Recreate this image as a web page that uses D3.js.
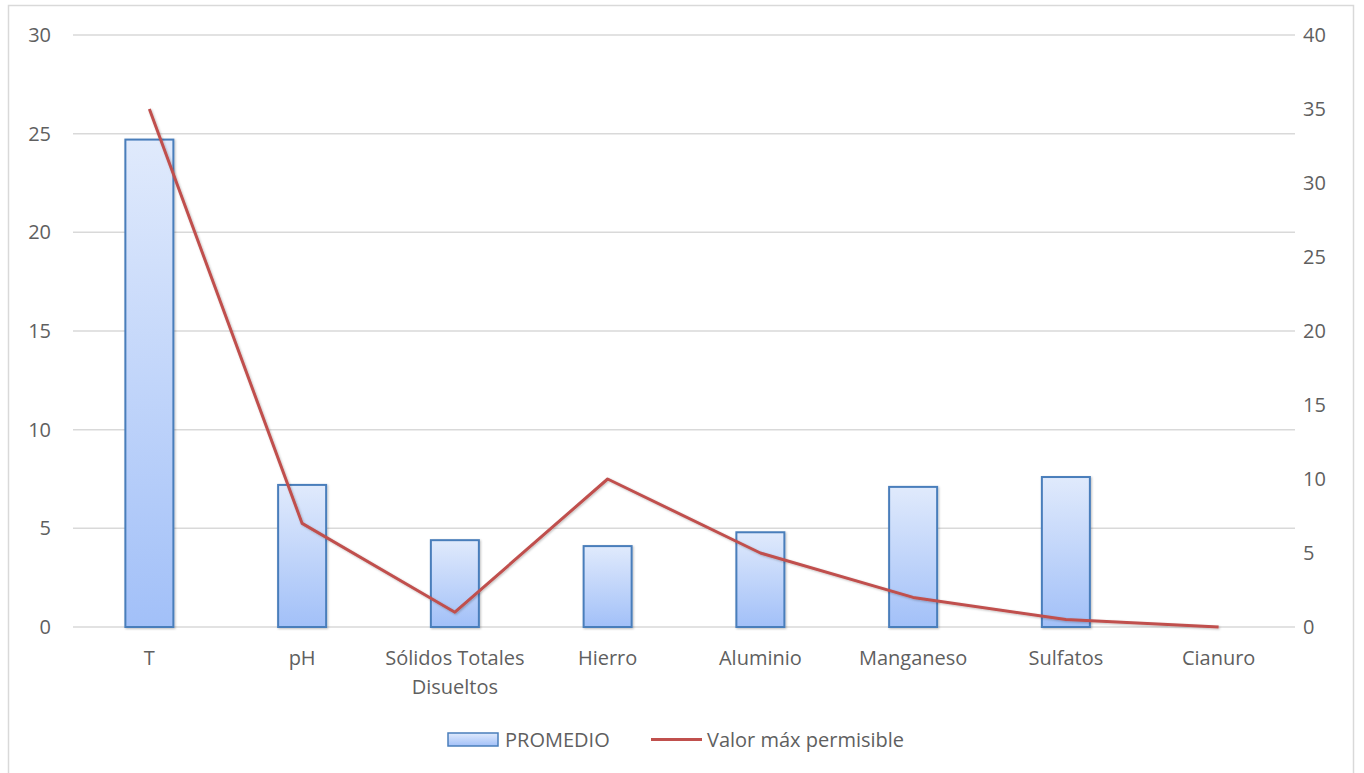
<!DOCTYPE html>
<html><head><meta charset="utf-8">
<script src="https://cdn.jsdelivr.net/npm/d3@7"></script>
<style>
body{margin:0;background:#fff;}
svg{display:block;font-family:"Open Sans",Lato,sans-serif;}
</style></head>
<body><svg id="c" width="1364" height="773"></svg>
<script>
const categories = ["T","pH","Sólidos Totales Disueltos","Hierro","Aluminio","Manganeso","Sulfatos","Cianuro"];
const promedio = [24.7, 7.2, 4.4, 4.1, 4.8, 7.1, 7.6, 0];
const valorMax = [35, 7, 1, 10, 5, 2, 0.5, 0];
const leftTicks = [0,5,10,15,20,25,30];
const rightTicks = [0,5,10,15,20,25,30,35,40];
const seriesNames = ["PROMEDIO","Valor máx permisible"];

const svg = d3.select("#c");
const L = 73, R = 1295, T = 35, B = 627;
const textColor = "#5f5f5f";
const FONT = "'Open Sans',Lato,sans-serif";
const FS = "20px";

svg.append("rect").attr("x",8.5).attr("y",5.5).attr("width",1345).attr("height",800)
  .attr("fill","#fff").attr("stroke","#d9d9d9").attr("stroke-width",1.5);

const defs = svg.append("defs");
const g = defs.append("linearGradient").attr("id","barGrad").attr("x1",0).attr("y1",0).attr("x2",0).attr("y2",1);
g.append("stop").attr("offset","0%").attr("stop-color","#e0eafc");
g.append("stop").attr("offset","100%").attr("stop-color","#a2c0f8");
const f = defs.append("filter").attr("id","sh").attr("x","-20%").attr("y","-20%").attr("width","140%").attr("height","140%");
f.append("feDropShadow").attr("dx",1).attr("dy",1).attr("stdDeviation",1.2).attr("flood-color","#000").attr("flood-opacity",0.25);

const x = d3.scaleBand().domain(categories).range([L,R]);
const yL = d3.scaleLinear().domain([0,30]).range([B,T]);
const yR = d3.scaleLinear().domain([0,40]).range([B,T]);

// gridlines
svg.append("g").selectAll("line").data(leftTicks).join("line")
  .attr("x1",L).attr("x2",R).attr("y1",d=>yL(d)).attr("y2",d=>yL(d))
  .attr("stroke","#d9d9d9").attr("stroke-width",1.5);

// left axis
const axL = svg.append("g").attr("transform",`translate(${L},0)`)
  .call(d3.axisLeft(yL).tickValues(leftTicks).tickSize(0).tickPadding(22));
axL.select(".domain").remove();
axL.selectAll("text").attr("fill",textColor).style("font-size",FS).style("font-family",FONT);

// right axis
const axR = svg.append("g").attr("transform",`translate(${R},0)`)
  .call(d3.axisRight(yR).tickValues(rightTicks).tickSize(0).tickPadding(8));
axR.select(".domain").remove();
axR.selectAll("text").attr("fill",textColor).style("font-size",FS).style("font-family",FONT);

// bars
const bw = 48;
svg.append("g").selectAll("rect").data(promedio.map((v,i)=>({c:categories[i],v})).filter(d=>d.v>0)).join("rect")
  .attr("x",d=>x(d.c)+x.bandwidth()/2-bw/2).attr("width",bw)
  .attr("y",d=>yL(d.v)).attr("height",d=>yL(0)-yL(d.v))
  .attr("fill","url(#barGrad)").attr("stroke","#4a7ebb").attr("stroke-width",2)
  .attr("filter","url(#sh)");

// line
const line = d3.line().x((d,i)=>x(categories[i])+x.bandwidth()/2).y(d=>yR(d));
svg.append("path").datum(valorMax).attr("d",line).attr("fill","none")
  .attr("stroke","#c0504d").attr("stroke-width",3).attr("stroke-linejoin","round")
  .attr("filter","url(#sh)");

// x labels
const xl = svg.append("g");
categories.forEach(c=>{
  const cx = x(c)+x.bandwidth()/2;
  let lines = [c];
  if (c === "Sólidos Totales Disueltos") lines = ["Sólidos Totales","Disueltos"];
  lines.forEach((t,j)=>{
    xl.append("text").attr("x",cx).attr("y",665+j*29).attr("text-anchor","middle")
      .attr("fill",textColor).style("font-size",FS).style("font-family",FONT).text(t);
  });
});

// legend
const lg = svg.append("g");
lg.append("rect").attr("x",448).attr("y",733).attr("width",50).attr("height",13)
  .attr("fill","url(#barGrad)").attr("stroke","#4a7ebb").attr("stroke-width",1.5);
lg.append("text").attr("x",505).attr("y",747).attr("fill",textColor).style("font-size",FS).style("font-family",FONT).text(seriesNames[0]);
lg.append("line").attr("x1",651).attr("x2",702).attr("y1",739.5).attr("y2",739.5)
  .attr("stroke","#c0504d").attr("stroke-width",3);
lg.append("text").attr("x",707).attr("y",747).attr("fill",textColor).style("font-size",FS).style("font-family",FONT).text(seriesNames[1]);
</script></body></html>
